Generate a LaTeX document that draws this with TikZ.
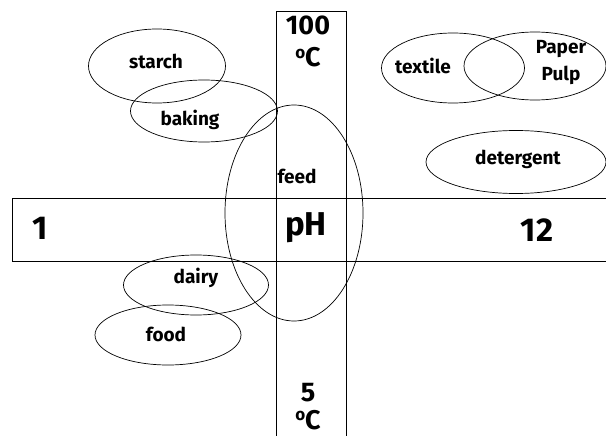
\documentclass[tikz,border=0pt]{standalone}
\usepackage{fontspec}
\setmainfont{Fira Sans}
\usetikzlibrary{shapes.geometric}
\newcommand\degsym{\raisebox{0.33em}{\fontsize{17}{17}\selectfont o}}
\begin{document}
\begin{tikzpicture}[x=1pt,y=-1pt,
  oval/.style={draw, ellipse, line width=0.7pt, inner sep=0pt},
  lbl/.style={font=\bfseries\fontsize{19}{27}\selectfont, align=center, inner sep=0pt},
  big/.style={font=\bfseries\fontsize{33}{36}\selectfont, inner sep=0pt},
  temp/.style={font=\bfseries\fontsize{27}{34}\selectfont, inner sep=0pt},
  bar/.style={draw, line width=0.7pt}]
\useasboundingbox (0,0) rectangle (606,436);
\clip (0,0) rectangle (606,436);
% bars
\node[bar, minimum width=70pt, minimum height=440pt, anchor=north west] (temperature) at (276,11) {};
\node[bar, minimum width=620pt, minimum height=63pt, anchor=north west] (phbar) at (12,198) {};
% ellipses
\node[oval, minimum width=137pt, minimum height=74pt] (starchE) at (157,66) {};
\node[oval, minimum width=147pt, minimum height=62pt] (bakingE) at (204,111) {};
\node[oval, minimum width=138pt, minimum height=216pt] (feedE) at (294,213) {};
\node[oval, minimum width=143pt, minimum height=70pt] (textileE) at (453,68) {};
\node[oval, minimum width=142pt, minimum height=68pt] (paperE) at (535,66) {};
\node[oval, minimum width=180pt, minimum height=63pt] (detergentE) at (516,162) {};
\node[oval, minimum width=145pt, minimum height=60pt] (dairyE) at (196,285) {};
\node[oval, minimum width=146pt, minimum height=60pt] (foodE) at (168,335) {};
% labels
\node[lbl] (starch) at (156,61) {starch};
\node[lbl] (baking) at (190,120) {baking};
\node[lbl] (textile) at (423,66) {textile};
\node[lbl] (paper) at (561,63) {Paper\\Pulp};
\node[lbl] (detergent) at (518,159) {detergent};
\node[lbl] (feed) at (297,176) {feed};
\node[lbl] (dairy) at (196,278) {dairy};
\node[lbl] (food) at (166,334) {food};
\node[big] (one) at (40,228) {1};
\node[big] (ph) at (306,228) {pH};
\node[big] (twelve) at (537,230) {12};
\node[temp, anchor=base] (hot) at (308,35) {100};
\node[temp, anchor=base] (hotunit) at (308,67) {\degsym C};
\node[temp, anchor=base] (cold) at (308,401) {5};
\node[temp, anchor=base] (coldunit) at (308,429) {\degsym C};
\end{tikzpicture}
\end{document}
